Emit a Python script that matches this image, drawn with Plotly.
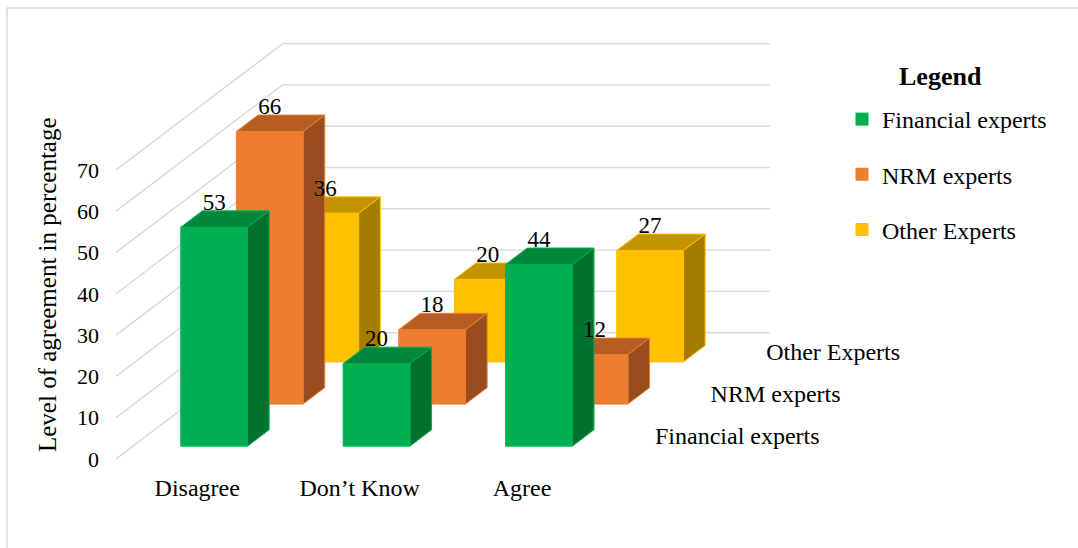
import plotly.graph_objects as go

# ---- data -------------------------------------------------------------
categories = ["Disagree", "Don\u2019t Know", "Agree"]
series_names = ["Financial experts", "NRM experts", "Other Experts"]
financial = [53, 20, 44]
nrm = [66, 18, 12]
other = [36, 20, 27]
y_ticks = [0, 10, 20, 30, 40, 50, 60, 70]

series_values = [financial, nrm, other]

# ---- styling ----------------------------------------------------------
FONT = "Liberation Serif, Times New Roman, serif"
face_colors = [
    # front, top, side
    ("#00B050", "#00873D", "#00722F"),
    ("#ED7D31", "#B75C23", "#994C1E"),
    ("#FFC000", "#C39300", "#A57C00"),
]
GRID = "#D9D9D9"

# ---- oblique 3-D geometry (x in px along the front plane, y in value units)
PX_PER_UNIT = 4.13          # vertical pixels per percentage point
CAT_W = 162.4               # width of one category slot on the front plane
BAR_W = 66.7                # width of a column
DEPTH_DX = 55.57            # horizontal shift per depth row
DEPTH_DY = 42.1 / PX_PER_UNIT   # vertical shift per depth row (value units)
N_ROWS = len(series_names)
BAR_FRONT, BAR_BACK = 0.305, 0.695   # column depth inside its row
FRONT_W = CAT_W * len(categories)

PLOT_L, PLOT_B = 116, 78
W, H = 1078, 548
PLOT_W = W - PLOT_L
PLOT_H = H - PLOT_B
ZERO_PX = 459               # screen y of value 0 on the front plane


def proj(x, depth, v):
    return x + depth * DEPTH_DX, v + depth * DEPTH_DY


fig = go.Figure()

# ---- gridlines on side and back walls ---------------------------------
gx, gy = [], []
for t in y_ticks:
    for px, d in [(0, 0), (0, N_ROWS), (FRONT_W, N_ROWS)]:
        x, y = proj(px, d, t)
        gx.append(x)
        gy.append(y)
    gx.append(None)
    gy.append(None)
fig.add_trace(go.Scatter(x=gx, y=gy, mode="lines",
                         line=dict(color=GRID, width=1.4),
                         hoverinfo="skip", showlegend=False))


# ---- columns, drawn from the back row to the front row -----------------
def poly(points, xs, ys):
    for p in points + [points[0]]:
        xs.append(p[0])
        ys.append(p[1])
    xs.append(None)
    ys.append(None)


label_x, label_y, label_t = [], [], []
for r in reversed(range(N_ROWS)):
    front_c, top_c, side_c = face_colors[r]
    fx, fy, tx, ty, sx, sy = [], [], [], [], [], []
    for c, v in enumerate(series_values[r]):
        x0 = (c + 0.5) * CAT_W - BAR_W / 2
        x1 = x0 + BAR_W
        fbl = proj(x0, r + BAR_FRONT, 0)
        fbr = proj(x1, r + BAR_FRONT, 0)
        ftl = proj(x0, r + BAR_FRONT, v)
        ftr = proj(x1, r + BAR_FRONT, v)
        bbr = proj(x1, r + BAR_BACK, 0)
        btl = proj(x0, r + BAR_BACK, v)
        btr = proj(x1, r + BAR_BACK, v)
        poly([fbr, bbr, btr, ftr], sx, sy)
        poly([ftl, ftr, btr, btl], tx, ty)
        poly([fbl, fbr, ftr, ftl], fx, fy)
        label_x.append((ftl[0] + ftr[0]) / 2)
        label_y.append(ftl[1] + 23 / PX_PER_UNIT)
        label_t.append(str(v))
    for xs, ys, col in [(sx, sy, side_c), (tx, ty, top_c), (fx, fy, front_c)]:
        fig.add_trace(go.Scatter(x=xs, y=ys, mode="lines", fill="toself",
                                 fillcolor=col,
                                 line=dict(color=front_c, width=1),
                                 hoverinfo="skip", showlegend=False))

# ---- value labels -------------------------------------------------------
fig.add_trace(go.Scatter(x=label_x, y=label_y, text=label_t, mode="text",
                         textposition="middle center",
                         textfont=dict(family=FONT, size=23, color="#000000"),
                         hoverinfo="skip", showlegend=False))

# ---- depth-axis labels (series names) ----------------------------------
sx_lab, sy_lab = [], []
for r in range(N_ROWS):
    x, y = proj(FRONT_W + 24, r + 0.5, 0)
    sx_lab.append(x)
    sy_lab.append(y)
fig.add_trace(go.Scatter(x=sx_lab, y=sy_lab, text=series_names, mode="text",
                         textposition="middle right",
                         textfont=dict(family=FONT, size=24, color="#000000"),
                         hoverinfo="skip", showlegend=False))

# ---- legend entries -----------------------------------------------------
for r, name in enumerate(series_names):
    fig.add_trace(go.Scatter(x=[None], y=[None], mode="markers", name=name,
                             legendgroup=name,
                             marker=dict(symbol="square", size=13,
                                         color=face_colors[r][0])))

fig.update_layout(
    width=W, height=H,
    margin=dict(l=PLOT_L, r=0, t=0, b=PLOT_B),
    paper_bgcolor="#FFFFFF", plot_bgcolor="#FFFFFF",
    font=dict(family=FONT, size=22, color="#000000"),
    xaxis=dict(range=[0, PLOT_W], showgrid=False, zeroline=False,
               showline=False, fixedrange=True,
               tickmode="array",
               tickvals=[(c + 0.5) * CAT_W for c in range(len(categories))],
               ticktext=categories, ticks="",
               tickfont=dict(family=FONT, size=24, color="#000000"),
               ticklabelstandoff=1),
    yaxis=dict(range=[-(PLOT_H - ZERO_PX) / PX_PER_UNIT, ZERO_PX / PX_PER_UNIT],
               showgrid=False, zeroline=False, showline=False, fixedrange=True,
               tickmode="array", tickvals=y_ticks,
               ticktext=[str(t) for t in y_ticks], ticks="",
               tickfont=dict(family=FONT, size=22, color="#000000"),
               ticklabelstandoff=16),
    annotations=[
        dict(text="Level of agreement in percentage",
             xref="paper", yref="paper",
             x=(47 - PLOT_L) / PLOT_W, y=1 - 285 / PLOT_H,
             xanchor="center", yanchor="middle", textangle=-90,
             showarrow=False,
             font=dict(family=FONT, size=25, color="#000000")),
        dict(text="<b>Legend</b>",
             xref="paper", yref="paper",
             x=(940 - PLOT_L) / PLOT_W, y=1 - 77 / PLOT_H,
             xanchor="center", yanchor="middle", showarrow=False,
             font=dict(family=FONT, size=26, color="#000000")),
    ],
    legend=dict(
        x=(842 - PLOT_L) / PLOT_W, xanchor="left",
        y=1 - 97 / PLOT_H, yanchor="top",
        bgcolor="rgba(0,0,0,0)",
        font=dict(family=FONT, size=24, color="#000000"),
        tracegroupgap=21, itemwidth=30,
    ),
    showlegend=True,
    shapes=[dict(type="rect", xref="paper", yref="paper",
                 x0=(7 - PLOT_L) / PLOT_W, x1=(1100 - PLOT_L) / PLOT_W,
                 y0=1 - 600 / PLOT_H, y1=1 - 8 / PLOT_H,
                 line=dict(color=GRID, width=1.5), layer="below")],
)

fig.write_html("out.html")
